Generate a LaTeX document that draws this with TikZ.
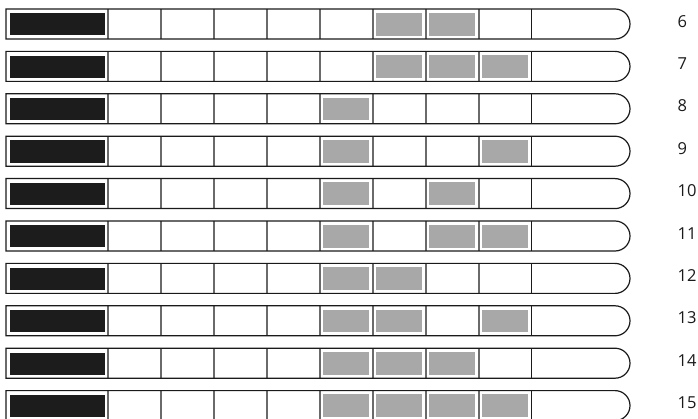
\documentclass[tikz,border=0pt]{standalone}
\usepackage{fontspec}
\setmainfont{Open Sans}
\definecolor{frame}{HTML}{1A1A1A}
\definecolor{blk}{HTML}{1C1C1C}
\definecolor{cellgray}{HTML}{A8A8A8}
\definecolor{sepgray}{HTML}{6A6A6A}
\begin{document}
\begin{tikzpicture}[x=1pt,y=1pt,
  barframe/.style={draw=frame,line width=1.2pt},
  sepline/.style={draw=sepgray,line width=1.7pt},
  lastsep/.style={draw=frame,line width=1pt},
  keycell/.style={fill=blk},
  bitcell/.style={fill=cellgray},
  numlabel/.style={anchor=west,inner sep=0pt,font=\fontsize{16.5}{19}\selectfont,text=frame}]
\useasboundingbox (0,-419) rectangle (698,0);
\foreach \n [count=\k from 0] in {6,...,15}{
  \pgfmathsetmacro{\T}{-(9+42.4*\k)}
  \pgfmathsetmacro{\B}{\T-30}
  \pgfmathsetmacro{\M}{\T-15}
  % key (black) cell
  \fill[keycell] (10,\T-4.3) rectangle (105,\B+3.5);
  % bit cells
  \foreach \c in {5,...,8}{
    \pgfmathtruncatemacro{\bit}{mod(floor(\n/(2^(8-\c))),2)}
    \ifnum\bit=1
      \fill[bitcell] ({107.7+53*(\c-1)+3.6},\T-3.8) rectangle ({107.7+53*\c-3.6},\B+3.4);
    \fi
  }
  % separators
  \foreach \j in {0,...,7}{
    \draw[sepline] ({107.7+53*\j},\T) -- ({107.7+53*\j},\B);
  }
  \draw[lastsep] (531.7,\T) -- (531.7,\B);
  % outer frame with rounded end
  \draw[barframe] (6,\T) -- (615,\T) arc[start angle=90,end angle=-90,radius=15] -- (6,\B) -- cycle;
  % label
  \node[numlabel] (n\n) at (677.5,\M+2.8) {\n};
}
\end{tikzpicture}
\end{document}
